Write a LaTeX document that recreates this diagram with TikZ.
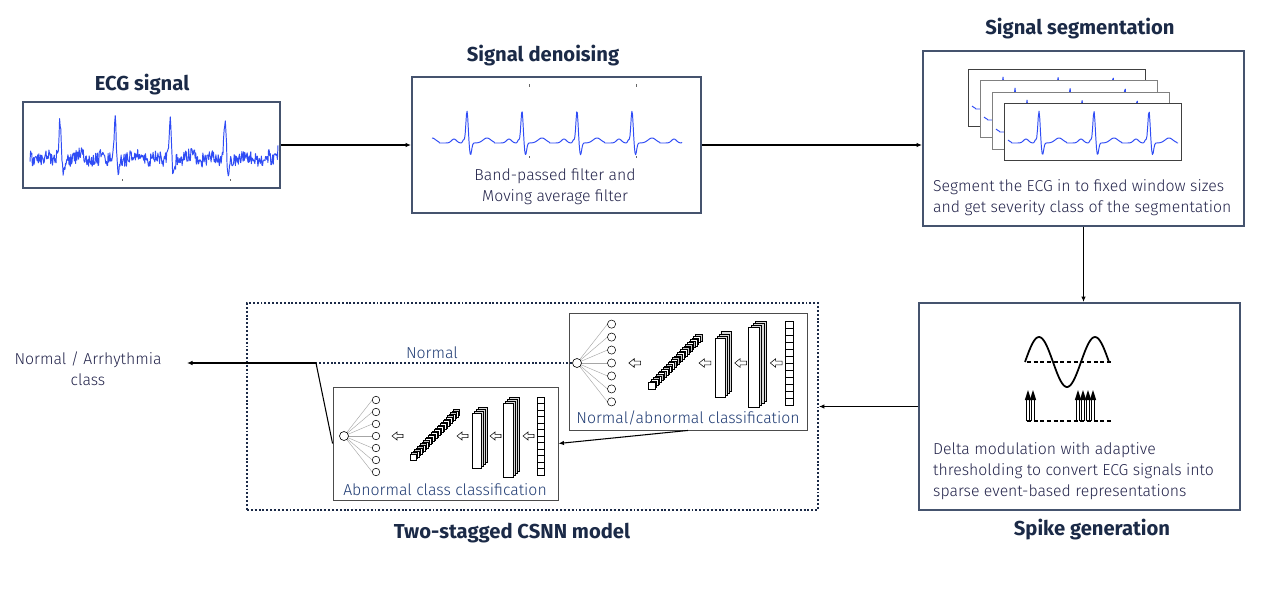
\documentclass[tikz,border=0pt]{standalone}
\usepackage{fontspec}
\setmainfont{Fira Sans}
\newfontfamily\bodyfont{Fira Sans Light}
\usetikzlibrary{positioning}
\usetikzlibrary{arrows.meta}

\definecolor{navy}{HTML}{1B2A47}
\definecolor{boxline}{HTML}{45536E}
\definecolor{ecgblue}{HTML}{2F4CF5}
\definecolor{txt}{HTML}{22234A}
\definecolor{lbl}{HTML}{1F3B73}

\tikzset{
  sized/.style 2 args={minimum width=#1*0.02cm, minimum height=#2*0.02cm},
  stagebox/.style={draw=boxline, line width=1.1pt, fill=white, inner sep=0pt},
  innerbox/.style={draw=black!70, line width=0.5pt, fill=white, inner sep=0pt},
  csnnbox/.style={draw=navy, line width=1.1pt, dash pattern=on 1.1pt off 1.1pt, inner sep=0pt},
  segwin/.style={line width=0.5pt, fill=white, inner sep=0pt, sized={177}{57}},
  title/.style={font=\bfseries\fontsize{11.5}{13}\selectfont, text=navy},
  body/.style={font=\bodyfont\fontsize{9}{11.9}\selectfont, text=txt},
  flow/.style={draw=black, line width=0.6pt, -{Latex[length=1.1mm,width=0.9mm]}},
  ecgwave/.style={draw=ecgblue, line width=0.55pt, line join=round},
  outnode/.style={circle, draw=black, line width=0.35pt, fill=white, inner sep=0pt, minimum size=9*0.02cm},
  fanline/.style={draw=gray!70, line width=0.25pt},
  netline/.style={line width=0.3pt},
}

% hollow arrow of the network, tip at (#1,0)
\newcommand{\hollowarr}[1]{%
  \draw[netline, fill=white] (#1,0) -- ++(5,-4) -- ++(0,2.3) -- ++(6,0) -- ++(0,3.4) -- ++(-6,0) -- ++(0,2.3) -- cycle;}

% convolutional spiking network, drawn from its output neuron
\newcommand{\csnnnet}[3]{%
\begin{scope}[shift={(#2)}, scale=#3]
  \foreach \i in {0,...,6} {
    \draw[fanline] (0,0) -- (28.2,-36+12*\i);
    \draw[netline] (32,-36+12*\i) circle (3.8);
  }
  \node[outnode] (#1out) at (0,0) {};
  \hollowarr{48}
  \foreach \i in {14,...,0} {
    \pgfmathsetmacro\cx{69+3*\i}
    \pgfmathsetmacro\cy{21-3.07*\i}
    \filldraw[fill=gray!45, line width=0.25pt] (\cx-1.5,\cy-4.5) rectangle (\cx+4.5,\cy+1.5);
    \filldraw[fill=white, line width=0.25pt] (\cx-3,\cy-3) rectangle (\cx+3,\cy+3);
  }
  \hollowarr{113}
  \foreach \k in {3,...,0} {
    \pgfmathsetmacro\shade{\k>0?30:0}
    \filldraw[netline, fill=gray!\shade] (128+2*\k,-23-2*\k) rectangle (137+2*\k,32-2*\k);
  }
  \hollowarr{146}
  \foreach \k in {3,...,0} {
    \pgfmathsetmacro\shade{\k>0?30:0}
    \filldraw[netline, fill=gray!\shade] (159+2*\k,-33-2*\k) rectangle (169+2*\k,41-2*\k);
  }
  \hollowarr{179}
  \draw[netline] (193,-39) rectangle (200,39);
  \foreach \j in {1,...,11}
    \draw[netline] (193,-39+6.5*\j) -- (200,-39+6.5*\j);
\end{scope}}

\begin{document}
\begin{tikzpicture}[x=0.02cm, y=-0.02cm,
  declare function={
    gau(\u,\w)=exp(-min((\u/\w)^2,30));
    beat(\u)=-32*gau(\u,1.6)+12*gau(\u-3.5,1.6)-3*gau(\u+3.5,1.2)-4*gau(\u+13,3.5)-5*gau(\u-20,5.5);
    ph(\x,\r)=mod(\x-\r+27.5+550,55)-27.5;
  }]
\useasboundingbox (0,0) rectangle (1262,589);
\pgfmathsetseed{4217}

% stage boxes
\node[stagebox, sized={257}{86}] (ecg) at (151.5,145) {};
\node[stagebox, sized={289}{136}] (den) at (556.5,145) {};
\node[stagebox, sized={321}{175}] (seg) at (1083.5,138.5) {};
\node[stagebox, sized={321}{207}] (spk) at (1079.5,406.5) {};
\node[csnnbox, sized={571}{207}] (csnn) at (532.5,406.5) {};
\node[innerbox, sized={238}{117}] (nab) at (688,371.5) {};
\node[innerbox, sized={225}{113}] (abn) at (445.5,443.5) {};

% titles
\node[title] (ecgtitle) at (142,85) {ECG signal};
\node[title] (dentitle) at (543,56) {Signal denoising};
\node[title] (segtitle) at (1080,29) {Signal segmentation};
\node[title] (spktitle) at (1092,530) {Spike generation};
\node[title] (csnntitle) at (512,533) {Two-stagged CSNN model};

% raw and filtered signals
\draw[ecgwave] plot[domain=30:278, samples=420] (\x, {160+1.2*beat(ph(\x,60))+7*rand});
\draw[ecgwave] plot[domain=432:682, samples=400] (\x, {143+beat(ph(\x,467))});
\foreach \t in {529,636} {
  \draw[black!60, line width=0.4pt] (\t,84) -- (\t,87) (\t,156) -- (\t,158);
}
\foreach \t in {122,230}
  \draw[black!60, line width=0.4pt] (\t,179) -- (\t,181);

% segmented windows
\foreach \xa/\ya/\wc in {968/69/black!75, 980/80/gray, 992/92/gray, 1004/103/black!75} {
  \node[segwin, draw=\wc] (win\xa) at (\xa+88.5,\ya+28.5) {};
  \pgfmathsetmacro\xs{\xa+4}
  \pgfmathsetmacro\xe{\xa+174}
  \pgfmathsetmacro\rr{\xa+35}
  \draw[ecgwave] plot[domain=\xs:\xe, samples=220] (\x, {\ya+40+beat(ph(\x,\rr))});
}

% delta modulation sketch
\draw[line width=1pt] plot[domain=1025:1109, samples=60, smooth] (\x, {362-25*sin((\x-1025)/56*360)});
\draw[line width=1pt, dash pattern=on 2.2pt off 1.6pt] (1027,362) -- (1112,362);
\draw[line width=1pt, dash pattern=on 2.2pt off 1.6pt] (1027,421) -- (1113,421);
\foreach \s in {1028,1033,1078,1083,1088,1093} {
  \draw[line width=0.5pt] (\s-1.3,421) -- (\s-1.3,399) (\s+1.3,421) -- (\s+1.3,399);
  \fill (\s-3.2,400) -- (\s,390) -- (\s+3.2,400) -- cycle;
}

% texts
\node[body, align=center] (dentxt) at (555,187) {Band-passed filter and\\Moving average filter};
\node[body, align=left, anchor=west] (segtxt) at (927,197.5) {Segment the ECG in to fixed window sizes\\and get severity class of the segmentation};
\node[body, align=left, anchor=west] (spktxt) at (927,471) {Delta modulation with adaptive\\thresholding to convert ECG signals into\\sparse event-based representations};
\node[body, align=center] (cls) at (88,369) {Normal / Arrhythmia\\class};

% the two networks
\csnnnet{nab}{577,363}{1.08}
\csnnnet{abn}{344,436}{1}
\node[body, text=lbl] (nablbl) at (688,418) {Normal/abnormal classification};
\node[body, text=lbl] (abnlbl) at (445,490) {Abnormal class classification};
\node[body, text=lbl] (normlbl) at (432,353) {Normal};

% connectors
\coordinate (jn) at (316,363);
\coordinate (clsin) at (187,363);
\draw[flow] (ecg.east) -- (den.west);
\draw[flow] (den.east) -- (den.east -| seg.west);
\draw[flow] (seg.south) -- (seg.south |- spk.north);
\draw[flow] (spk.west) -- (csnn.east);
\draw[flow] (nab.south) -- (abn.east);
\draw[navy, line width=1pt, dash pattern=on 1.1pt off 1.1pt] (nabout.west) -- (jn);
\draw[flow] (jn) -- (clsin);
\draw[black, line width=0.6pt] (jn) -- (abn.west);
\end{tikzpicture}
\end{document}
